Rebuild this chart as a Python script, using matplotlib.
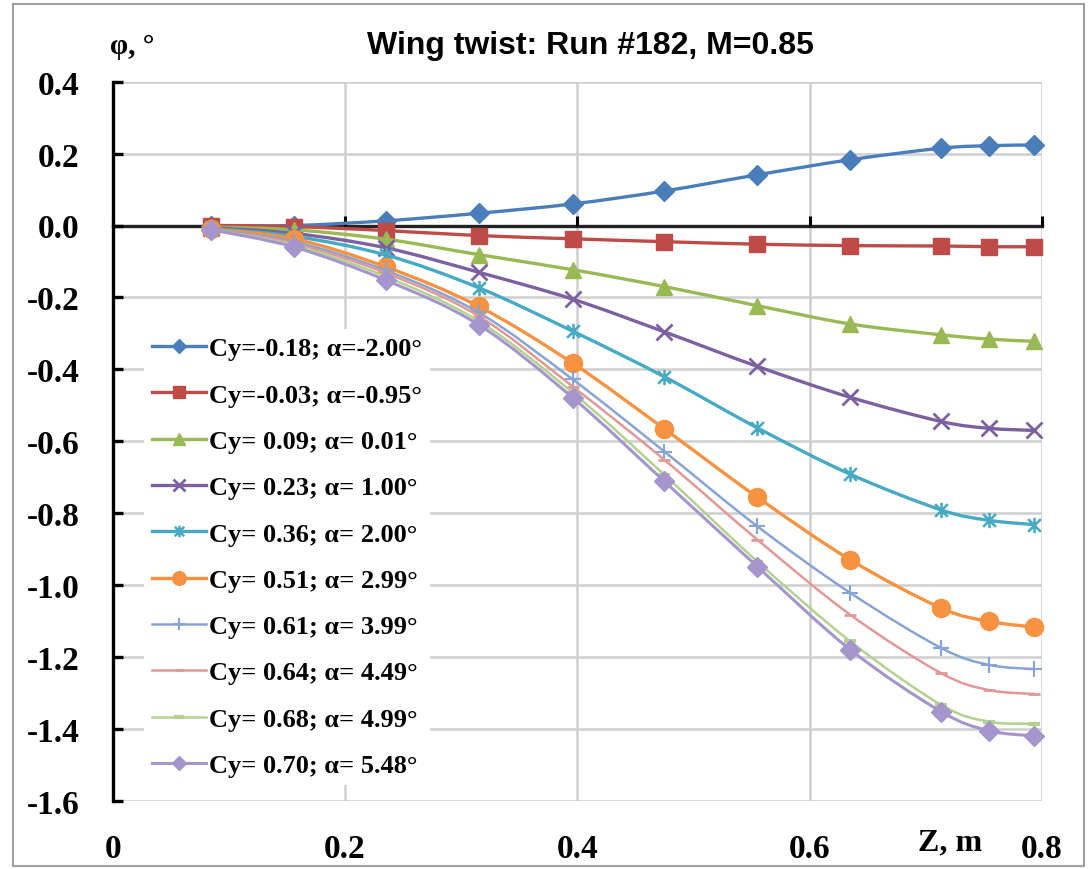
import numpy as np
import matplotlib
matplotlib.use('Agg')
import matplotlib.pyplot as plt
from matplotlib.path import Path
from matplotlib.patches import PathPatch, Rectangle
from matplotlib.lines import Line2D

plt.rcParams['axes.unicode_minus'] = False

# spanwise stations, m
z = [0.085, 0.156, 0.235, 0.315, 0.396, 0.475, 0.555, 0.635, 0.713, 0.754, 0.793]

# twist angle phi, deg, one list per regime
phi_1 = [0.0, 0.0, 0.013, 0.034, 0.060, 0.096, 0.141, 0.183, 0.215, 0.222, 0.224]
phi_2 = [0.0, -0.003, -0.014, -0.028, -0.037, -0.045, -0.052, -0.056, -0.057, -0.059, -0.059]
phi_3 = [-0.004, -0.012, -0.038, -0.081, -0.123, -0.170, -0.223, -0.274, -0.304, -0.316, -0.322]
phi_4 = [-0.006, -0.022, -0.062, -0.130, -0.205, -0.296, -0.392, -0.478, -0.545, -0.564, -0.570]
phi_5 = [-0.008, -0.030, -0.082, -0.173, -0.294, -0.421, -0.563, -0.692, -0.791, -0.820, -0.832]
phi_6 = [-0.010, -0.037, -0.115, -0.225, -0.383, -0.566, -0.756, -0.930, -1.064, -1.101, -1.117]
phi_7 = [-0.011, -0.045, -0.125, -0.242, -0.428, -0.629, -0.837, -1.022, -1.175, -1.222, -1.234]
phi_8 = [-0.012, -0.050, -0.132, -0.252, -0.448, -0.652, -0.874, -1.083, -1.245, -1.292, -1.303]
phi_9 = [-0.012, -0.055, -0.142, -0.266, -0.465, -0.694, -0.935, -1.157, -1.333, -1.380, -1.386]
phi_10 = [-0.012, -0.060, -0.152, -0.276, -0.479, -0.712, -0.949, -1.180, -1.352, -1.405, -1.420]

labels = ['Cy=-0.18; α=-2.00°', 'Cy=-0.03; α=-0.95°', 'Cy= 0.09; α= 0.01°',
          'Cy= 0.23; α= 1.00°', 'Cy= 0.36; α= 2.00°', 'Cy= 0.51; α= 2.99°',
          'Cy= 0.61; α= 3.99°', 'Cy= 0.64; α= 4.49°', 'Cy= 0.68; α= 4.99°',
          'Cy= 0.70; α= 5.48°']

yticks = [0.4, 0.2, 0.0, -0.2, -0.4, -0.6, -0.8, -1.0, -1.2, -1.4, -1.6]
xticks = [0, 0.2, 0.4, 0.6, 0.8]

# excel-like star marker: x with a vertical bar
star = Path([(-1, -1), (1, 1), (-1, 1), (1, -1), (0, -1.2), (0, 1.2)],
            [Path.MOVETO, Path.LINETO] * 3)

series = [phi_1, phi_2, phi_3, phi_4, phi_5, phi_6, phi_7, phi_8, phi_9, phi_10]
colors = ['#4A7EBB', '#BE4B48', '#98B954', '#7D60A0', '#46AAC5', '#F69240',
          '#86A4D6', '#E29896', '#B2D28E', '#A495CC']
markers = ['D', 's', '^', 'x', star, 'o', '+', '_', '_', 'D']
msizes = [10, 12, 11, 12, 11, 13, 12, 8, 9, 10]
mews = [1, 1, 1, 2, 1.8, 1, 1.5, 2, 3, 1]
lws = [2.4, 2.4, 2.4, 2.4, 2.4, 2.4, 1.8, 1.8, 1.8, 2.2]


def smooth_path(xs, ys):
    # cubic bezier through the points, same tension as excel's smoothed line
    p = np.column_stack([xs, ys])
    n = len(p)
    verts = [p[0]]
    codes = [Path.MOVETO]
    for i in range(n - 1):
        p0 = p[max(i - 1, 0)]
        p1 = p[i]
        p2 = p[i + 1]
        p3 = p[min(i + 2, n - 1)]
        verts += [p1 + (p2 - p0) / 6.0, p2 - (p3 - p1) / 6.0, p2]
        codes += [Path.CURVE4] * 3
    return Path(verts, codes)


W, H = 1092, 870
fig = plt.figure(figsize=(W / 100, H / 100), dpi=100)
ax = fig.add_axes([112.7 / W, 1 - 801.7 / H, (1042 - 112.7) / W, (801.7 - 82.7) / H])

ax.set_xlim(0, 0.8)
ax.set_ylim(-1.6, 0.4)

grid_c = '#CFCFCF'
for v in yticks:
    ax.axhline(v, color=grid_c, lw=1.8, zorder=0)
for v in xticks[1:]:
    ax.axvline(v, color=grid_c, lw=1.8, zorder=0)

for s in ['top', 'right']:
    ax.spines[s].set_visible(False)
ax.spines['left'].set_linewidth(2.4)
ax.spines['left'].set_color('black')
ax.spines['bottom'].set_position(('data', 0))
ax.spines['bottom'].set_linewidth(2.4)
ax.spines['bottom'].set_color('#222222')
ax.spines['bottom'].set_zorder(1)

ax.set_yticks(yticks)
ax.set_yticklabels(['%.1f' % v for v in yticks])
ax.tick_params(axis='y', direction='in', length=7, width=2.4, pad=24,
               labelsize=24)
ax.set_xticks(xticks)
ax.tick_params(axis='x', direction='in', length=7, width=2.2,
               labelbottom=False)
for t in ax.get_yticklabels():
    t.set_fontfamily('Liberation Serif')
    t.set_fontweight('bold')

sec = ax.secondary_xaxis('bottom')
sec.set_xticks(xticks)
sec.set_xticklabels(['0', '0.2', '0.4', '0.6', '0.8'])
sec.spines['bottom'].set_visible(False)
sec.tick_params(length=0, pad=23, labelsize=24)
for t in sec.get_xticklabels():
    t.set_fontfamily('Liberation Serif')
    t.set_fontweight('bold')

handles = []
for i, vals in enumerate(series):
    ax.add_patch(PathPatch(smooth_path(z, vals), facecolor='none',
                           edgecolor=colors[i], lw=lws[i], zorder=2 + i,
                           capstyle='round', joinstyle='round'))
    ax.plot(z, vals, linestyle='none', marker=markers[i], ms=msizes[i],
            color=colors[i], mec=colors[i], mew=mews[i], zorder=2 + i,
            clip_on=False)
    handles.append(Line2D([], [], color=colors[i], lw=lws[i], marker=markers[i],
                          ms=msizes[i] * 0.75, mew=mews[i], mec=colors[i]))

leg = ax.legend(handles, labels, loc='upper left',
                bbox_to_anchor=(144 / W, 1 - 330 / H), bbox_transform=fig.transFigure,
                frameon=True, framealpha=1, facecolor='white', edgecolor='none',
                fancybox=False, borderpad=0.3, borderaxespad=0,
                handlelength=2.05, handletextpad=0.12, labelspacing=0.865,
                prop={'family': 'Liberation Serif', 'weight': 'bold', 'size': 19})
leg.set_zorder(20)

fig.text(590 / W, 1 - 46 / H, 'Wing twist: Run #182, M=0.85', ha='center',
         va='center', fontsize=23, fontweight='bold', family='Liberation Sans')
fig.text(110 / W, 1 - 46 / H, 'φ, °', ha='left', va='center', fontsize=21,
         fontweight='bold', family='Liberation Serif')
fig.text(950 / W, 1 - 843 / H, 'Z, m', ha='center', va='center', fontsize=23,
         fontweight='bold', family='Liberation Serif')

fig.patches.append(Rectangle((13 / W, 1 - 867 / H), (1084 - 13) / W, (867 - 5) / H,
                             transform=fig.transFigure, fill=False,
                             edgecolor='#A0A0A0', lw=1.5))

fig.savefig('out.png', dpi=100)
